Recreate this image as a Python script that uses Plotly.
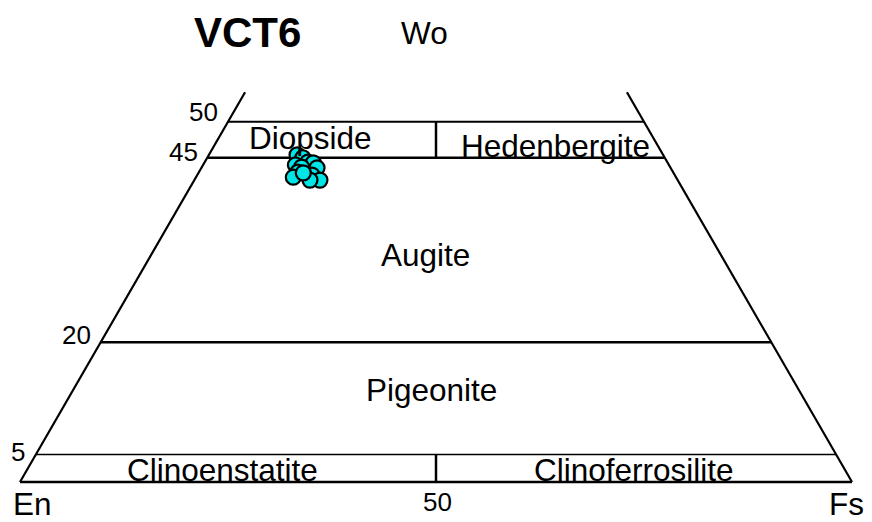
import numpy as np
import plotly.graph_objects as go

# pyroxene quadrilateral, boundaries as drawn (Wo %)
wo_levels = [50, 45, 19.4, 3.8]
wo_labels = ["50", "45", "20", "5"]
wo_top = 54.1  # where the side edges stop

fields = ["Diopside", "Hedenbergite", "Augite", "Pigeonite",
          "Clinoenstatite", "Clinoferrosilite"]

# sample VCT6 analyses (Wo, En, Fs)
wo = [45.4, 45.0, 44.4, 44.3, 44.0, 43.7, 43.6, 43.0, 42.6, 41.9, 41.9, 42.3, 42.9]
en = [44.0, 43.5, 43.2, 42.6, 44.9, 44.3, 42.5, 45.1, 43.6, 43.0, 44.2, 46.0, 44.5]
fs = [10.6, 11.5, 12.4, 13.1, 11.1, 12.0, 13.9, 11.9, 13.8, 15.1, 13.9, 11.7, 12.6]

H = np.sqrt(3) / 2
SCALE = 8.32  # px per unit


def tern(w, f):
    w = np.asarray(w, dtype=float)
    f = np.asarray(f, dtype=float)
    return f + w / 2, w * H


fig = go.Figure()
line = dict(color="black", width=2.2)

# side edges
for f0, f1 in [(0, 0), (100, 100 - wo_top)]:
    x, y = tern([0, wo_top], [f0, f1])
    fig.add_trace(go.Scatter(x=x, y=y, mode="lines", line=line))

# base
x, y = tern([0, 0], [0, 100])
fig.add_trace(go.Scatter(x=x, y=y, mode="lines", line=dict(color="black", width=2.5)))

# horizontal boundaries
widths = [2, 2.5, 2.5, 1.5]
for w, lw in zip(wo_levels, widths):
    x, y = tern([w, w], [0, 100 - w])
    fig.add_trace(go.Scatter(x=x, y=y, mode="lines", line=dict(color="black", width=lw)))

# En = Fs dividers
for w0, w1 in [(wo_levels[1], wo_levels[0]), (0, wo_levels[3])]:
    x, y = tern([w0, w1], [(100 - w0) / 2, (100 - w1) / 2])
    fig.add_trace(go.Scatter(x=x, y=y, mode="lines", line=dict(color="black", width=2.5)))

# data
x, y = tern(wo, fs)
fig.add_trace(go.Scatter(
    x=x, y=y, mode="markers",
    marker=dict(size=15, color="#00E5E5", line=dict(color="black", width=2.2)),
))

FAM = "Liberation Sans, Arial"
font = dict(family=FAM, size=31.5, color="black")
tfont = dict(family=FAM, size=26, color="black")
ann = []
label_pos = [(34.9, 41.4), (64.4, 40.4), (48.7, 27.3), (49.4, 11.1),
             (24.3, 1.5), (73.8, 1.5)]
for name, (ax, ay) in zip(fields, label_pos):
    ann.append(dict(x=ax, y=ay, text=name, showarrow=False, font=font))

tick_pos = [(24.0, 44.5), (21.6, 39.7), (8.8, 17.7), (0.9, 3.6)]
for t, (ax, ay) in zip(wo_labels, tick_pos):
    ann.append(dict(x=ax, y=ay, text=t, showarrow=False, xanchor="right", font=tfont))

ann += [
    dict(x=1.5, y=-2.7, text="En", showarrow=False, font=font),
    dict(x=99.3, y=-2.7, text="Fs", showarrow=False, font=font),
    dict(x=50.2, y=-2.4, text="50", showarrow=False, font=tfont),
    dict(x=48.6, y=54.0, text="Wo", showarrow=False, font=font),
    dict(x=27.4, y=54.0, text="<b>VCT6</b>", showarrow=False,
         font=dict(family=FAM, size=42, color="black")),
]

fig.update_layout(
    width=872,
    height=522,
    margin=dict(l=0, r=0, t=0, b=0),
    paper_bgcolor="white",
    plot_bgcolor="white",
    showlegend=False,
    annotations=ann,
)
# page has an 8px body margin, so the En corner sits at (12, 474) inside the figure
fig.update_xaxes(visible=False, range=[-12 / SCALE, (872 - 12) / SCALE])
fig.update_yaxes(visible=False, range=[-48 / SCALE, (522 - 48) / SCALE])

fig.write_html("out.html")
